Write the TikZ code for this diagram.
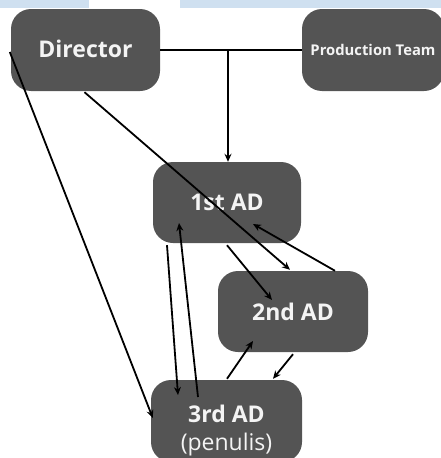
\documentclass[tikz,border=0pt]{standalone}
\usepackage{fontspec}
\setmainfont{Open Sans}
\usetikzlibrary{arrows.meta,calc}
\definecolor{boxgray}{HTML}{545454}
\definecolor{bartop}{HTML}{CFE0F0}
\definecolor{txt}{HTML}{F4F4F4}
\tikzset{
  box/.style={draw=none, fill=boxgray, rounded corners=20pt, inner sep=0pt, text=txt,
    font=\bfseries\fontsize{23}{28}\selectfont, align=center},
  conn/.style={line width=1.8pt, black},
  arr/.style={conn, -{Stealth[length=8pt,width=7pt]}}
}
\begin{document}
\begin{tikzpicture}[x=1pt,y=-1pt]
\useasboundingbox (0,0) rectangle (441,458);
\clip (0,0) rectangle (441,458);
\fill[bartop] (0,0) rectangle (89,8);
\fill[bartop] (180,0) rectangle (441,8);
\node[box, minimum width=149pt, minimum height=82pt] (dir) at (85.5,50) {\raisebox{3pt}{Director}};
\node[box, minimum width=142pt, minimum height=82pt, font=\bfseries\fontsize{14.8}{18}\selectfont] (prod) at (373,50) {\raisebox{1pt}{Production Team}};
\node[box, minimum width=148pt, minimum height=81pt] (ad1) at (227,202.5) {1st AD};
\node[box, minimum width=150pt, minimum height=81pt] (ad2) at (293,311.5) {2nd AD};
\node[box, minimum width=151pt, minimum height=82pt,
  label={[text=txt, font=\bfseries\fontsize{23}{28}\selectfont, align=center, yshift=-10pt]center:{3rd AD\\{\mdseries (penulis)}}}] (ad3) at (226.5,421) {};
\coordinate (j) at (228,50);
\draw[conn] (dir.east) -- (prod.west);
\draw[arr] (j) -- (ad1.north -| j);
\draw[arr] ($(dir.west)+(-1,2)$) -- ($(ad3.west)+(2,-3)$);
\draw[arr] ($(dir.south)+(-1,1)$) -- ($(ad2.north)+(-3,-1)$);
\draw[arr] ($(ad1.south)+(0,2)$) -- ($(ad2.center)+(-21,-11.5)$);
\draw[arr] ($(ad2.north)+(42,0)$) -- ($(ad1.center)+(26,21.5)$);
\draw[arr] ($(ad1.south)+(-60,2)$) -- ($(ad3.center)+(-48.5,-26)$);
\draw[arr] ($(ad3.center)+(-28.5,-24)$) -- ($(ad1.center)+(-48,20.5)$);
\draw[arr] ($(ad3.north)+(0.5,-1)$) -- ($(ad2.center)+(-40,29.5)$);
\draw[arr] ($(ad2.south)+(0,2)$) -- ($(ad3.north)+(46.5,-1)$);
\end{tikzpicture}
\end{document}
